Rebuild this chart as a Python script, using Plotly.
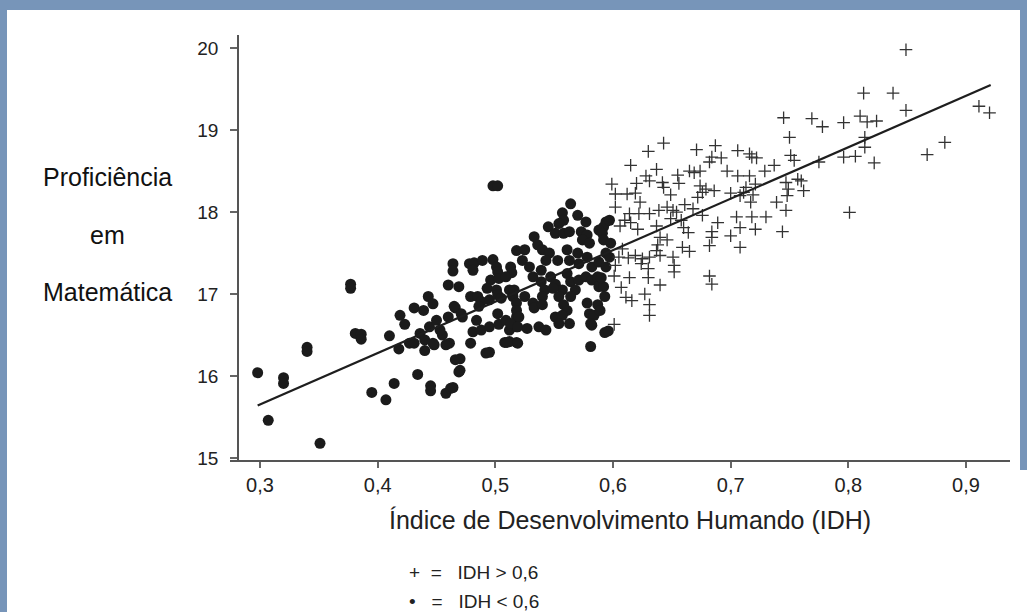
import plotly.graph_objects as go

# IDH < 0,6 (dots)
idh_low = [0.298, 0.307, 0.320, 0.320, 0.340, 0.340, 0.351, 0.377, 0.377, 0.381,
           0.386, 0.386, 0.395, 0.407, 0.410, 0.414, 0.418, 0.419, 0.423, 0.431,
           0.434, 0.439, 0.427, 0.436, 0.443, 0.447, 0.444, 0.440, 0.445, 0.445,
           0.450, 0.455, 0.448, 0.458, 0.462, 0.460, 0.464, 0.464, 0.466, 0.469,
           0.469, 0.460, 0.466, 0.471, 0.461, 0.478, 0.482, 0.479, 0.479, 0.481,
           0.484, 0.498, 0.502, 0.518, 0.481, 0.489, 0.498, 0.501, 0.502, 0.513,
           0.514, 0.496, 0.503, 0.509, 0.493, 0.501, 0.485, 0.488, 0.486, 0.495,
           0.502, 0.505, 0.512, 0.515, 0.518, 0.465, 0.472, 0.440, 0.447, 0.458,
           0.431, 0.488, 0.495, 0.502, 0.503, 0.509, 0.512, 0.518, 0.518, 0.492,
           0.508, 0.518, 0.453, 0.564, 0.557, 0.570, 0.558, 0.554, 0.577, 0.594,
           0.592, 0.545, 0.551, 0.558, 0.563, 0.573, 0.578, 0.574, 0.580, 0.588,
           0.591, 0.533, 0.536, 0.525, 0.523, 0.529, 0.540, 0.546, 0.543, 0.553,
           0.561, 0.563, 0.570, 0.571, 0.578, 0.582, 0.588, 0.594, 0.594, 0.516,
           0.532, 0.539, 0.539, 0.547, 0.551, 0.561, 0.564, 0.557, 0.568, 0.571,
           0.577, 0.582, 0.587, 0.588, 0.592, 0.542, 0.549, 0.540, 0.525, 0.532,
           0.518, 0.520, 0.554, 0.564, 0.558, 0.561, 0.578, 0.587, 0.580, 0.584,
           0.581, 0.582, 0.533, 0.540, 0.551, 0.557, 0.554, 0.563, 0.527, 0.537,
           0.543, 0.513, 0.519, 0.512, 0.519, 0.593, 0.581, 0.596, 0.495, 0.510,
           0.470, 0.470, 0.464, 0.592, 0.590, 0.593, 0.589, 0.597, 0.598, 0.597]
prof_low = [16.04, 15.46, 15.98, 15.91, 16.35, 16.30, 15.18, 17.12, 17.07, 16.52,
            16.51, 16.45, 15.80, 15.71, 16.49, 15.91, 16.33, 16.74, 16.63, 16.83,
            16.02, 16.80, 16.40, 16.52, 16.97, 16.88, 16.60, 16.31, 15.88, 15.82,
            16.68, 16.50, 16.38, 15.79, 15.85, 17.11, 17.37, 17.28, 16.20, 16.05,
            17.09, 16.72, 16.83, 16.76, 16.40, 17.37, 17.38, 16.97, 16.40, 16.54,
            16.68, 18.32, 18.32, 17.53, 17.29, 17.41, 17.42, 17.33, 17.27, 17.33,
            17.26, 17.17, 17.19, 17.21, 17.07, 17.05, 16.97, 16.91, 16.85, 16.93,
            16.99, 16.95, 17.05, 16.97, 16.89, 16.85, 16.72, 16.44, 16.40, 16.38,
            16.40, 16.56, 16.60, 16.76, 16.63, 16.68, 16.56, 16.72, 16.60, 16.28,
            16.41, 16.41, 16.56, 18.10, 17.99, 17.96, 17.90, 17.86, 17.88, 17.88,
            17.82, 17.82, 17.74, 17.74, 17.76, 17.76, 17.72, 17.66, 17.62, 17.78,
            17.74, 17.70, 17.60, 17.54, 17.41, 17.33, 17.54, 17.50, 17.41, 17.41,
            17.54, 17.41, 17.50, 17.37, 17.45, 17.33, 17.39, 17.50, 17.33, 17.05,
            17.21, 17.29, 17.15, 17.21, 17.12, 17.25, 17.15, 17.05, 17.05, 17.17,
            17.21, 17.17, 17.21, 17.09, 17.09, 17.05, 17.07, 16.97, 16.97, 16.89,
            16.80, 16.72, 16.97, 16.97, 16.87, 16.80, 16.89, 16.87, 16.76, 16.74,
            16.64, 16.62, 16.83, 16.87, 16.72, 16.74, 16.64, 16.64, 16.58, 16.60,
            16.56, 16.64, 16.60, 16.42, 16.40, 16.53, 16.36, 16.55, 16.29, 16.41,
            16.21, 16.07, 15.86, 17.66, 17.20, 16.97, 16.80, 17.90, 17.62, 17.45]

# IDH > 0,6 (plus signs)
idh_high = [0.849, 0.813, 0.838, 0.849, 0.911, 0.920, 0.745, 0.769, 0.778, 0.796,
            0.810, 0.816, 0.824, 0.814, 0.814, 0.796, 0.806, 0.822, 0.775, 0.882,
            0.867, 0.801, 0.750, 0.751, 0.754, 0.747, 0.757, 0.760, 0.762, 0.749,
            0.748, 0.739, 0.747, 0.744, 0.737, 0.729, 0.718, 0.722, 0.716, 0.706,
            0.687, 0.692, 0.684, 0.682, 0.671, 0.643, 0.630, 0.615, 0.637, 0.628,
            0.631, 0.620, 0.599, 0.602, 0.612, 0.619, 0.623, 0.602, 0.614, 0.610,
            0.606, 0.615, 0.621, 0.622, 0.631, 0.639, 0.642, 0.643, 0.649, 0.646,
            0.655, 0.656, 0.665, 0.669, 0.674, 0.661, 0.651, 0.649, 0.654, 0.658,
            0.660, 0.664, 0.637, 0.640, 0.646, 0.638, 0.637, 0.640, 0.651, 0.659,
            0.665, 0.631, 0.625, 0.619, 0.613, 0.608, 0.605, 0.602, 0.601, 0.614,
            0.624, 0.630, 0.630, 0.640, 0.607, 0.611, 0.616, 0.627, 0.631, 0.631,
            0.652, 0.652, 0.601, 0.674, 0.679, 0.676, 0.686, 0.672, 0.668, 0.676,
            0.689, 0.684, 0.684, 0.682, 0.682, 0.684, 0.700, 0.708, 0.708, 0.705,
            0.718, 0.730, 0.721, 0.717, 0.719, 0.713, 0.721, 0.716, 0.706, 0.697,
            0.700, 0.708, 0.711]
prof_high = [19.98, 19.45, 19.45, 19.24, 19.29, 19.21, 19.15, 19.14, 19.04, 19.09,
             19.17, 19.10, 19.11, 18.91, 18.79, 18.67, 18.68, 18.60, 18.61, 18.85,
             18.70, 17.995, 18.91, 18.69, 18.63, 18.36, 18.40, 18.38, 18.26, 18.28,
             18.20, 18.12, 18.02, 17.76, 18.57, 18.50, 18.67, 18.66, 18.71, 18.75,
             18.81, 18.66, 18.67, 18.61, 18.76, 18.84, 18.74, 18.57, 18.52, 18.44,
             18.38, 18.35, 18.34, 18.22, 18.22, 18.23, 18.12, 18.06, 17.98, 17.90,
             17.83, 17.87, 17.79, 17.98, 17.98, 18.02, 18.36, 18.30, 18.21, 18.06,
             18.45, 18.35, 18.50, 18.48, 18.50, 18.09, 18.02, 17.92, 18.00, 17.90,
             17.81, 17.75, 17.83, 17.69, 17.66, 17.60, 17.53, 17.47, 17.45, 17.57,
             17.52, 17.45, 17.43, 17.47, 17.44, 17.55, 17.45, 17.35, 17.22, 17.20,
             17.37, 17.31, 17.20, 17.11, 17.08, 16.96, 16.92, 17.00, 16.87, 16.74,
             17.35, 17.27, 16.63, 18.32, 18.28, 18.24, 18.26, 18.18, 18.04, 17.96,
             17.87, 17.76, 17.69, 17.59, 17.22, 17.12, 17.71, 17.57, 17.81, 17.94,
             17.94, 17.94, 17.79, 18.12, 18.21, 18.30, 18.34, 18.44, 18.44, 18.50,
             18.23, 18.20, 18.24]

# regression line
fit_x = [0.298, 0.921]
fit_y = [15.64, 19.55]

x_ticks = [0.3, 0.4, 0.5, 0.6, 0.7, 0.8, 0.9]
x_tick_text = ["0,3", "0,4", "0,5", "0,6", "0,7", "0,8", "0,9"]
y_ticks = [15, 16, 17, 18, 19, 20]

y_title_lines = ["Proficiência", "em", "Matemática"]
x_title = "Índice de Desenvolvimento Humando (IDH)"
NB = "\u00a0"
legend_lines = ["+" + NB * 2 + "=" + NB * 3 + "IDH" + NB + ">" + NB + "0,6",
                "•" + NB * 3 + "=" + NB * 3 + "IDH" + NB + "<" + NB + "0,6"]

SANS = "Liberation Sans, Arial, sans-serif"
FRAME = "#7795b9"

fig = go.Figure()
fig.add_trace(go.Scatter(x=idh_low, y=prof_low, mode="markers",
                         marker=dict(symbol="circle", size=11, color="#1b1b1b"),
                         hoverinfo="skip", showlegend=False))
fig.add_trace(go.Scatter(x=idh_high, y=prof_high, mode="markers",
                         marker=dict(symbol="cross-thin", size=9,
                                     line=dict(width=1.3, color="#333333")),
                         hoverinfo="skip", showlegend=False))
fig.add_trace(go.Scatter(x=fit_x, y=fit_y, mode="lines",
                         line=dict(color="#1e1e1e", width=2.2),
                         hoverinfo="skip", showlegend=False))

L, R, T, B = 230, 17, 35, 152
W, H = 1027, 612
pw = W - L - R
ph = H - T - B

fig.update_layout(
    width=W, height=H,
    margin=dict(l=L, r=R, t=T, b=B),
    paper_bgcolor="white", plot_bgcolor="white",
    xaxis=dict(range=[0.2745, 0.9374], tickvals=x_ticks, ticktext=x_tick_text,
               showgrid=False, zeroline=False, showline=True, linecolor="#555555",
               linewidth=1.8, ticks="outside", ticklen=6, tickwidth=1.5,
               tickcolor="#666666",
               tickfont=dict(family=SANS, size=20, color="#222222")),
    yaxis=dict(range=[14.976, 20.159], tickvals=y_ticks,
               anchor="free", position=8 / pw,
               showgrid=False, zeroline=False, showline=True, linecolor="#555555",
               linewidth=1.8, ticks="outside", ticklen=7, tickwidth=1.5,
               tickcolor="#666666", ticklabelstandoff=8,
               tickfont=dict(family=SANS, size=19, color="#222222")),
    font=dict(family=SANS),
)

def px2paper_x(px):
    return (px - L) / pw

def py2paper_y(py):
    return (H - B - py) / ph

# y-axis title (three lines)
for txt, py in zip(y_title_lines, [177, 235, 292]):
    fig.add_annotation(x=px2paper_x(107), y=py2paper_y(py), xref="paper", yref="paper",
                       text=txt, showarrow=False, xanchor="center", yanchor="middle",
                       font=dict(family=SANS, size=25, color="#111111"))

# x-axis title
fig.add_annotation(x=px2paper_x(630), y=py2paper_y(520), xref="paper", yref="paper",
                   text=x_title, showarrow=False, xanchor="center", yanchor="middle",
                   font=dict(family=SANS, size=25, color="#222222"))

# legend key
for txt, py in zip(legend_lines, [572, 601]):
    fig.add_annotation(x=px2paper_x(407), y=py2paper_y(py), xref="paper", yref="paper",
                       text=txt, showarrow=False, xanchor="left", yanchor="middle",
                       font=dict(family=SANS, size=19, color="#222222"))

# page frame (blue border strips)
frame_rects = [(0, 0, W, 10), (0, 0, 7, H), (W - 7, 0, W, 470)]
for x0, y0, x1, y1 in frame_rects:
    fig.add_shape(type="rect", xref="paper", yref="paper",
                  x0=px2paper_x(x0), x1=px2paper_x(x1),
                  y0=py2paper_y(y1), y1=py2paper_y(y0),
                  fillcolor=FRAME, line=dict(width=0), layer="above")

fig.write_html("out.html", config={"displayModeBar": False},
               post_script="document.body.style.margin='0';document.body.style.overflow='hidden';")
